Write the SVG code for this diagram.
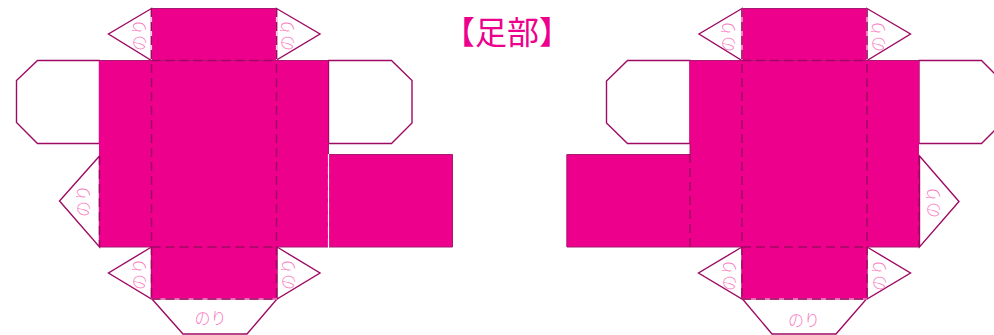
<svg xmlns="http://www.w3.org/2000/svg" width="994" height="335" viewBox="0 0 994 335">
<style>
.f{fill:#ec008c}
.l{fill:#fff;stroke:#9e0a63;stroke-width:1.4;stroke-linejoin:miter}
.d{fill:none;stroke:#9e0a63;stroke-width:1.5;stroke-dasharray:9 5}
.w{fill:none;stroke:#f9c6e2;stroke-width:1.2}
.v{fill:none;stroke:#fff;stroke-width:1.2;stroke-dasharray:9 3}
.e{fill:none;stroke:#a81a72;stroke-width:1}
.g{font-family:"Noto Sans CJK JP","Liberation Sans",sans-serif;font-size:16px;font-weight:300;fill:#f87cc0;text-anchor:middle}
.t{font-family:"Noto Sans CJK JP","Liberation Sans",sans-serif;font-size:32px;fill:#ec008c;text-anchor:middle}
</style>
<g id="title"><text class="t" x="507" y="44">【足部】</text></g>
<g id="left-net">
<polygon class="l" points="99.500,60.500 37.500,60.500 16.500,80.500 16.500,122.500 37.500,143.500 99.500,143.500"/>
<polygon class="l" points="328.500,60.500 391.500,60.500 412,80.500 412,123 391.500,143.500 328.500,143.500"/>
<polygon class="l" points="151.500,8.500 108.500,34 151.500,60.500"/>
<polygon class="l" points="276.500,8.500 320,34 276.500,60"/>
<polygon class="l" points="99.500,156 59.500,201 99.500,247"/>
<polygon class="l" points="151.500,247 108.500,273 151.500,299"/>
<polygon class="l" points="277,247 320,273 277,299"/>
<polygon class="l" points="152,299 183,334 247,334 277,299"/>
<rect class="f" x="151.500" y="8" width="125" height="52"/>
<rect class="f" x="99" y="60" width="229" height="187"/>
<rect class="f" x="151.500" y="247" width="125.500" height="52"/>
<rect class="f" x="329" y="154.500" width="123.500" height="92.500"/>
<path class="e" d="M151.500 8.500H276.500M99 60.500H328M99 247H151M277 247H328M328.500 143V154.500M329 154.500H452.500V247H329"/>
</g>
<g id="right-net">
<polygon class="l" points="690,60.500 627.500,60.500 606.500,81 606.500,123 627.500,143.500 690,143.500"/>
<polygon class="l" points="919,60.500 981.500,60.500 1002,81 1002,123 981.500,143.500 919,143.500"/>
<polygon class="l" points="742,8.500 699,34 742,60.500"/>
<polygon class="l" points="867,8.500 910.500,34 867,60.500"/>
<polygon class="l" points="919.500,156 959,201.500 919.500,247"/>
<polygon class="l" points="742,247 698.500,273 742,299"/>
<polygon class="l" points="867,247 910.500,273 867,299"/>
<polygon class="l" points="742.500,299 772,334 836,334 866.500,299"/>
<rect class="f" x="742" y="8" width="125" height="52"/>
<rect class="f" x="689.500" y="60" width="229.500" height="187"/>
<rect class="f" x="742" y="247" width="125" height="52"/>
<rect class="f" x="566.500" y="154.500" width="123.500" height="92.500"/>
<path class="e" d="M742 8.500H867M689.500 60.500H919M690 247H742M867 247H919M690.500 143V154.500M690 154.500H567V247H690"/>
</g>
<g id="connectors">
<path class="w" d="M151.500 8V60M276.500 8V60M151 299H277M742 8V60M867 8V60M742 299H867"/>
<path class="v" d="M328.500 154V247"/>
<path class="d" d="M151.500 8V299M276.500 8V299M151.500 60.500H276.500M151.500 247H276.500M151.500 299H277M99.500 156V247"/>
<path class="d" d="M742 8V299M867 8V299M742 60.500H867M742 247H867M742 299H867M690 154V247M919 156V247"/>
</g>
<g id="labels">
<text class="g" transform="translate(145 35) rotate(-90)">のり</text>
<text class="g" transform="translate(293 35) rotate(-90)">のり</text>
<text class="g" transform="translate(89 201) rotate(-90)">のり</text>
<text class="g" transform="translate(145 274) rotate(-90)">のり</text>
<text class="g" transform="translate(294 274) rotate(-90)">のり</text>
<text class="g" x="210.500" y="324">のり</text>
<text class="g" transform="translate(734 36) rotate(-90)">のり</text>
<text class="g" transform="translate(884 36) rotate(-90)">のり</text>
<text class="g" transform="translate(939 202) rotate(-90)">のり</text>
<text class="g" transform="translate(735 275) rotate(-90)">のり</text>
<text class="g" transform="translate(885 275) rotate(-90)">のり</text>
<text class="g" x="804" y="326">のり</text>
</g>
</svg>
